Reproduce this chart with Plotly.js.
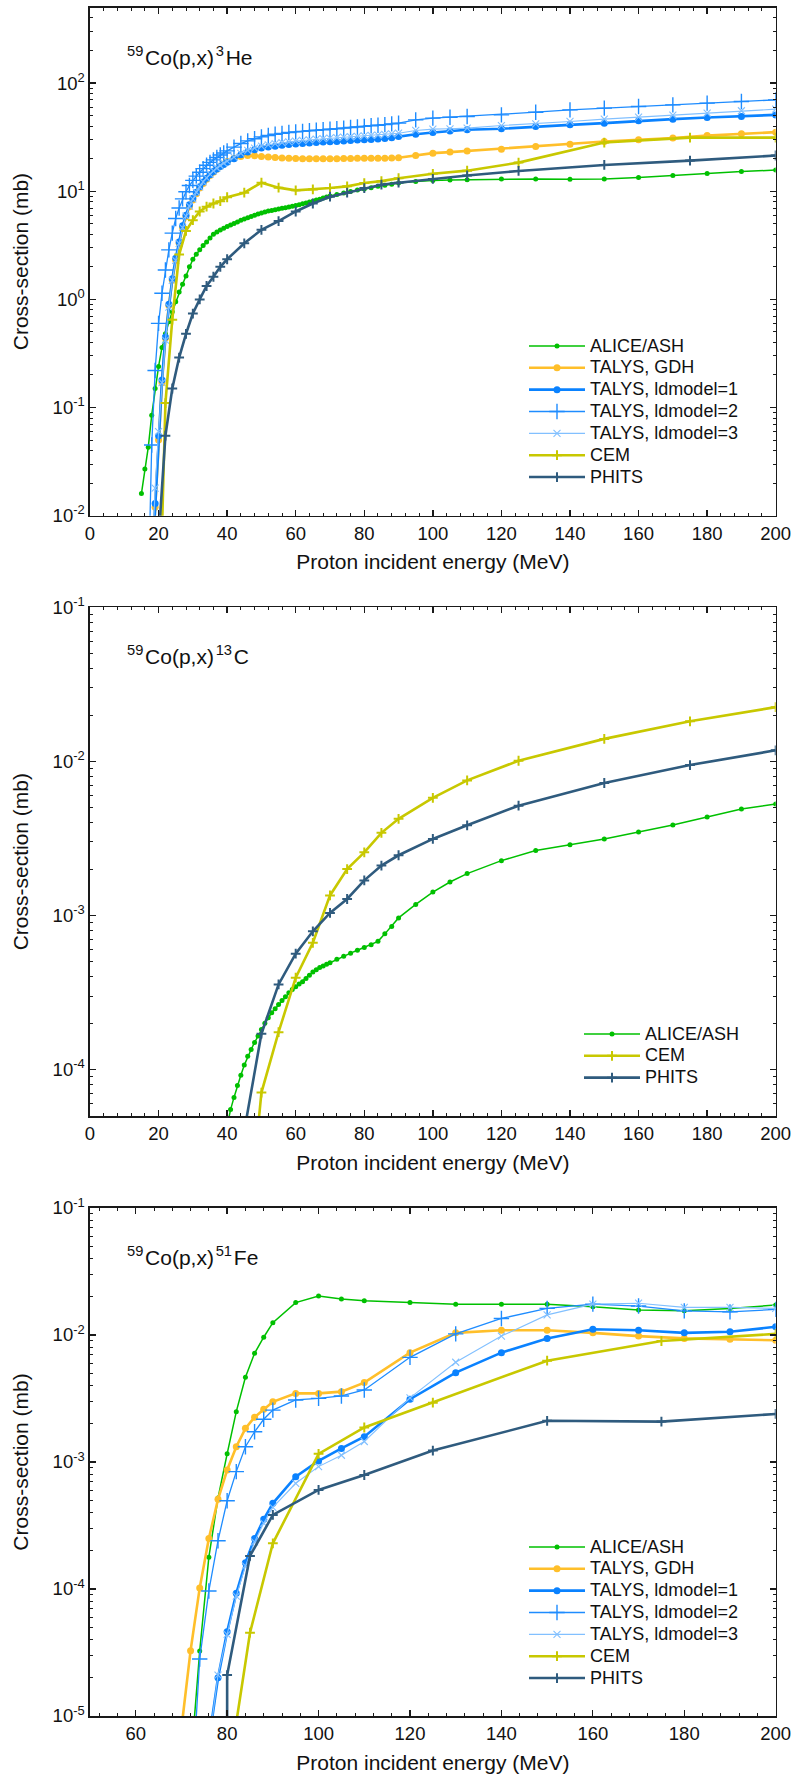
<!DOCTYPE html>
<html>
<head>
<meta charset="utf-8">
<script src="https://cdn.plot.ly/plotly-3.0.1.min.js"></script>
<style>html,body{margin:0;padding:0;background:#fff}#chart{width:795px;height:1783px}</style>
</head>
<body>
<div id="chart"></div>
<script>
// ---------------- DATA ----------------
// Panel 1: 59Co(p,x)3He
const E_he3_alice = [15,16,17,18,19,20,21,22,23,24,25,26,27,28,29,30,31,32,33,34,35,36,37,38,39,40,41,42,43,44,45,46,47,48,49,50,51,52,53,54,55,56,57,58,59,60,61,62,63,64,65,66,67,68,69,70,72,74,76,78,80,82,84,86,88,90,95,100,105,110,120,130,140,150,160,170,180,190,200];
const he3_alice = [0.016,0.027,0.043,0.085,0.15,0.24,0.36,0.48,0.62,0.77,
  0.95,1.17,1.38,1.65,2.0,2.35,2.62,2.88,3.15,3.4,
  3.7,4.0,4.2,4.38,4.55,4.72,4.88,5.02,5.2,5.38,
  5.55,5.7,5.85,6.0,6.15,6.3,6.42,6.55,6.65,6.75,
  6.85,6.95,7.05,7.15,7.28,7.4,7.5,7.65,7.8,7.95,
  8.1,8.28,8.45,8.65,8.85,9.05,
  9.35,9.65,9.95,10.25,10.5,10.8,11.1,11.35,11.6,11.9,
  12.3,12.6,12.7,12.8,
  13.0,13.0,12.9,13.0,13.4,14.0,14.6,15.2,15.7];
const E_he3_talys = [18,19,20,21,22,23,24,25,26,27,28,29,30,31,32,33,34,35,36,37,38,39,40,42,44,46,48,50,52,54,56,58,60,62,64,66,68,70,72,74,76,78,80,82,84,86,88,90,95,100,105,110,120,130,140,150,160,170,180,190,200];
const E_he3_talys2 = [17,18,19,20,21,22,23,24,25,26,27,28,29,30,31,32,33,34,35,36,37,38,39,40,42,44,46,48,50,52,54,56,58,60,62,64,66,68,70,72,74,76,78,80,82,84,86,88,90,95,100,105,110,120,130,140,150,160,170,180,190,200];
const he3_gdh = [0.003,0.012,0.05,0.17,0.44,0.88,1.5,2.3,3.3,4.6,5.8,7.2,8.3,9.5,10.7,11.8,12.9,14.0,15.0,16.0,17.0,17.9,18.8,
  20.2,21.0,21.4,21.3,21.0,20.7,20.5,20.3,20.2,20.1,20.0,20.0,20.0,20.0,20.0,20.0,20.1,20.1,20.2,20.2,20.2,20.2,20.2,20.3,20.4,
  21.4,22.5,23.0,23.6,
  24.5,25.9,27.2,28.8,29.9,31.0,32.7,34.0,35.2];
const he3_ld1 = [0.003,0.013,0.055,0.18,0.45,0.9,1.55,2.4,3.4,4.8,6.0,7.5,8.6,9.8,11.0,12.2,13.2,14.2,15.2,16.1,16.9,17.7,18.5,
  20.0,21.7,23.0,24.2,25.1,25.6,26.1,26.6,27.0,27.3,27.6,27.9,28.2,28.5,28.7,28.9,29.2,29.4,29.7,29.9,30.1,30.4,30.8,31.3,32.0,
  33.7,34.9,36.1,37.0,
  37.8,39.6,41.1,42.6,44.8,46.4,48.1,49.1,50.8];
const he3_ld2 = [0.002,0.045,0.22,0.6,1.14,1.87,2.87,4.1,5.6,7.0,8.5,9.9,11.3,12.6,13.8,15.0,16.2,17.4,18.5,19.5,20.5,21.6,22.6,23.6,
  25.6,27.6,29.2,30.6,31.8,32.8,33.6,34.3,34.9,35.4,35.8,36.2,36.6,37.0,37.4,37.8,38.3,38.8,39.3,39.8,40.3,40.8,41.3,42.0,42.6,
  45.7,47.4,48.4,49.1,
  50.8,53.8,56.6,58.7,60.7,62.9,65.3,67.6,70.0];
const he3_ld3 = [0.003,0.018,0.06,0.17,0.42,0.85,1.5,2.3,3.3,4.6,5.9,7.3,8.5,9.8,11.0,12.2,13.3,14.4,15.4,16.4,17.3,18.2,19.0,
  20.7,22.4,23.9,25.1,26.1,26.9,27.5,28.1,28.6,29.1,29.5,29.9,30.3,30.7,31.0,31.3,31.6,31.9,32.2,32.5,32.8,33.1,33.5,34.0,34.4,
  36.5,37.5,37.8,38.3,
  40.5,42.0,44.2,46.4,48.4,50.6,52.7,55.5,57.4];
const E_he3_cem = [20,22,24,26,28,30,32,34,36,38,40,45,50,55,60,65,70,75,80,85,90,100,110,125,150,175,200];
const he3_cem = [0.0005,0.11,0.65,2.6,4.3,5.4,6.5,7.2,7.7,8.1,8.8,9.7,12.0,10.8,10.2,10.4,10.7,11.1,11.9,12.4,13.2,14.5,15.5,18.4,28.2,31.3,31.3];
const E_he3_phits = [20,22,24,26,28,30,32,34,36,38,40,45,50,55,60,65,70,75,80,85,90,100,110,125,150,175,200];
const he3_phits = [0.006,0.055,0.15,0.29,0.48,0.74,1.0,1.33,1.62,2.0,2.35,3.3,4.4,5.3,6.5,7.7,8.9,9.7,10.7,11.5,12.0,13.0,14.0,15.4,17.5,19.2,21.4];

// Panel 2: 59Co(p,x)13C
const E_c13_alice = [40,41,42,43,44,45,46,47,48,49,50,51,52,53,54,55,56,57,58,59,60,61,62,63,64,65,66,67,68,69,70,72,74,76,78,80,82,84,86,88,90,95,100,105,110,120,130,140,150,160,170,180,190,200];
const c13_alice = [4.3e-5,5.5e-5,6.6e-5,7.9e-5,9.2e-5,1.07e-4,1.22e-4,1.35e-4,1.5e-4,1.65e-4,
  1.82e-4,2.0e-4,2.17e-4,2.34e-4,2.48e-4,2.65e-4,2.81e-4,2.97e-4,3.15e-4,3.31e-4,
  3.45e-4,3.6e-4,3.72e-4,3.9e-4,4.1e-4,4.3e-4,4.45e-4,4.6e-4,4.7e-4,4.82e-4,4.93e-4,
  5.2e-4,5.45e-4,5.7e-4,5.95e-4,6.2e-4,6.45e-4,6.8e-4,7.6e-4,8.5e-4,9.65e-4,
  1.18e-3,1.42e-3,1.65e-3,1.87e-3,
  2.27e-3,2.64e-3,2.88e-3,3.14e-3,3.48e-3,3.87e-3,4.36e-3,4.91e-3,5.3e-3];
const E_c13_cem = [45,50,55,60,65,70,75,80,85,90,100,110,125,150,175,200];
const c13_cem = [5e-6,7.1e-5,1.75e-4,3.95e-4,6.65e-4,1.35e-3,2.0e-3,2.57e-3,3.44e-3,4.24e-3,5.8e-3,7.53e-3,1.01e-2,1.4e-2,1.82e-2,2.25e-2];
const E_c13_phits = [45,50,55,60,65,70,75,80,85,90,100,110,125,150,175,200];
const c13_phits = [4e-5,1.71e-4,3.57e-4,5.65e-4,7.9e-4,1.04e-3,1.28e-3,1.69e-3,2.11e-3,2.46e-3,3.14e-3,3.85e-3,5.16e-3,7.24e-3,9.47e-3,1.18e-2];

// Panel 3: 59Co(p,x)51Fe
const E_fe51_alice = [72,74,76,78,80,82,84,86,88,90,95,100,105,110,120,130,140,150,160,170,180,190,200];
const fe51_alice = [4e-6,3.25e-5,1.78e-4,5.2e-4,1.16e-3,2.49e-3,4.64e-3,7.17e-3,9.6e-3,1.25e-2,1.8e-2,2.03e-2,1.92e-2,1.86e-2,1.8e-2,1.75e-2,1.75e-2,1.75e-2,1.67e-2,1.57e-2,1.55e-2,1.62e-2,1.72e-2];
const E_fe51_talys = [70,72,74,76,78,80,82,84,86,88,90,95,100,105,110,120,130,140,150,160,170,180,190,200];
const fe51_gdh = [8e-6,3.27e-5,1.02e-4,2.5e-4,5.08e-4,8.65e-4,1.32e-3,1.84e-3,2.25e-3,2.6e-3,2.98e-3,3.47e-3,3.47e-3,3.58e-3,4.22e-3,7.26e-3,1.04e-2,1.09e-2,1.09e-2,1.04e-2,9.8e-3,9.4e-3,9.25e-3,9.1e-3];
const fe51_ld2 = [1e-7,1.5e-6,2.81e-5,9.65e-5,2.4e-4,4.95e-4,8.4e-4,1.32e-3,1.73e-3,2.17e-3,2.56e-3,3.08e-3,3.17e-3,3.31e-3,3.69e-3,6.67e-3,1.02e-2,1.35e-2,1.62e-2,1.75e-2,1.69e-2,1.55e-2,1.52e-2,1.59e-2];
const E_fe51_talys13 = [76,78,80,82,84,86,88,90,95,100,105,110,120,130,140,150,160,170,180,190,200];
const fe51_ld1 = [6.3e-6,2.0e-5,4.6e-5,9.25e-5,1.61e-4,2.5e-4,3.54e-4,4.73e-4,7.66e-4,1.02e-3,1.28e-3,1.58e-3,3.12e-3,5.05e-3,7.26e-3,9.4e-3,1.11e-2,1.09e-2,1.04e-2,1.06e-2,1.16e-2];
const fe51_ld3 = [6e-6,2.1e-5,4.4e-5,8.8e-5,1.52e-4,2.35e-4,3.3e-4,4.4e-4,6.8e-4,9.2e-4,1.13e-3,1.45e-3,3.2e-3,6.1e-3,9.8e-3,1.44e-2,1.75e-2,1.78e-2,1.65e-2,1.65e-2,1.62e-2];
const E_fe51_cem = [80,85,90,100,110,125,150,175,200];
const fe51_cem = [3e-6,4.53e-5,2.29e-4,1.16e-3,1.87e-3,2.93e-3,6.28e-3,8.97e-3,1.02e-2];
const E_fe51_phits = [80,80,85,90,100,110,125,150,175,200];
const fe51_phits = [1e-7,2.1e-5,1.82e-4,3.83e-4,6.03e-4,7.9e-4,1.23e-3,2.11e-3,2.08e-3,2.39e-3];

// Tick labels
const yTickVals1 = [0.01,0.1,1,10,100];
const yTickText1 = ['10<sup>-2</sup>','10<sup>-1</sup>','10<sup>0</sup>','10<sup>1</sup>','10<sup>2</sup>'];
const yTickVals2 = [1e-4,1e-3,1e-2,1e-1];
const yTickText2 = ['10<sup>-4</sup>','10<sup>-3</sup>','10<sup>-2</sup>','10<sup>-1</sup>'];
const yTickVals3 = [1e-5,1e-4,1e-3,1e-2,1e-1];
const yTickText3 = ['10<sup>-5</sup>','10<sup>-4</sup>','10<sup>-3</sup>','10<sup>-2</sup>','10<sup>-1</sup>'];
const panelLabels = ['<sup>59</sup>\u200aCo(p,x)\u200a<sup>3</sup>\u200aHe','<sup>59</sup>\u200aCo(p,x)\u200a<sup>13</sup>\u200aC','<sup>59</sup>\u200aCo(p,x)\u200a<sup>51</sup>\u200aFe'];
const xTitle = 'Proton incident energy (MeV)';
const yTitle = 'Cross-section (mb)';

// ---------------- STYLES ----------------
const W = 795, H = 1783;
const FONT = 'Liberation Sans, Arial, Helvetica, sans-serif';
const ST = {
  'ALICE/ASH':        {color:'#00c000', lw:1.5, sym:'circle', ms:5, mlw:0},
  'TALYS, GDH':       {color:'#ffbf2a', lw:2.6, sym:'circle', ms:7, mlw:0},
  'TALYS, ldmodel=1': {color:'#0a82ff', lw:2.6, sym:'circle', ms:7, mlw:0},
  'TALYS, ldmodel=2': {color:'#1e8cff', lw:1.3, sym:'cross-thin', ms:11, mlw:1.4},
  'TALYS, ldmodel=3': {color:'#82c0ff', lw:1.1, sym:'x-thin', ms:7, mlw:1.1},
  'CEM':              {color:'#c8c800', lw:2.6, sym:'cross-thin', ms:7, mlw:2},
  'PHITS':            {color:'#2f5b7e', lw:2.6, sym:'cross-thin', ms:7, mlw:2}
};
function tr(name, x, y, k) {
  const s = ST[name];
  return {
    type:'scatter', mode:'lines+markers',
    name:'<span style="font-size:18px">' + name + '</span>', x:x, y:y,
    xaxis: k===1 ? 'x' : 'x'+k, yaxis: k===1 ? 'y' : 'y'+k,
    legend: k===1 ? 'legend' : 'legend'+k,
    line:{color:s.color, width:s.lw},
    marker:{symbol:s.sym, size:s.ms, color:s.color, line:{color:s.color, width:s.mlw}},
    showlegend:true
  };
}
const data = [
  tr('ALICE/ASH', E_he3_alice, he3_alice, 1),
  tr('TALYS, GDH', E_he3_talys, he3_gdh, 1),
  tr('TALYS, ldmodel=1', E_he3_talys, he3_ld1, 1),
  tr('TALYS, ldmodel=2', E_he3_talys2, he3_ld2, 1),
  tr('TALYS, ldmodel=3', E_he3_talys, he3_ld3, 1),
  tr('CEM', E_he3_cem, he3_cem, 1),
  tr('PHITS', E_he3_phits, he3_phits, 1),
  tr('ALICE/ASH', E_c13_alice, c13_alice, 2),
  tr('CEM', E_c13_cem, c13_cem, 2),
  tr('PHITS', E_c13_phits, c13_phits, 2),
  tr('ALICE/ASH', E_fe51_alice, fe51_alice, 3),
  tr('TALYS, GDH', E_fe51_talys, fe51_gdh, 3),
  tr('TALYS, ldmodel=1', E_fe51_talys13, fe51_ld1, 3),
  tr('TALYS, ldmodel=2', E_fe51_talys, fe51_ld2, 3),
  tr('TALYS, ldmodel=3', E_fe51_talys13, fe51_ld3, 3),
  tr('CEM', E_fe51_cem, fe51_cem, 3),
  tr('PHITS', E_fe51_phits, fe51_phits, 3)
];

// ---------------- LAYOUT ----------------
const px = v => v / W;
const py = v => 1 - v / H;
const plotL = 90, plotR = 775.7;
const panels = [
  {top:7.5, bottom:515.7, xr:[0,200], yr:[-2, Math.log10(500)], tv:yTickVals1, tt:yTickText1, lo:-2, hi:3},
  {top:607.3, bottom:1116, xr:[0,200], yr:[Math.log10(5e-5), -1], tv:yTickVals2, tt:yTickText2, lo:-5, hi:-1},
  {top:1208, bottom:1716, xr:[50,200], yr:[-5, -1], tv:yTickVals3, tt:yTickText3, lo:-5, hi:-1}
];
function minorLogTicks(lo, hi) {
  const out = [];
  for (let d = lo; d < hi; d++) for (let m = 2; m <= 9; m++) out.push(m * Math.pow(10, d));
  return out;
}
const axisCommon = {
  showline:true, linecolor:'#1a1a1a', linewidth:1.6, mirror:'allticks',
  ticks:'inside', ticklen:6, tickwidth:1.3, tickcolor:'#1a1a1a',
  showgrid:false, zeroline:false,
  tickfont:{family:FONT, size:18.5, color:'#111'}
};
const layout = {
  width:W, height:H, margin:{l:0, r:0, t:0, b:0},
  paper_bgcolor:'#fff', plot_bgcolor:'#fff',
  font:{family:FONT, color:'#111'},
  annotations:[], showlegend:true
};
panels.forEach((p, i) => {
  const k = i + 1;
  const xa = 'xaxis' + (k===1 ? '' : k), ya = 'yaxis' + (k===1 ? '' : k);
  layout[xa] = Object.assign({}, axisCommon, {
    domain:[px(plotL), px(plotR)], range:p.xr, tick0:0, dtick:20,
    anchor: k===1 ? 'y' : 'y'+k,
    minor:{ticks:'inside', ticklen:3, tickwidth:1, tickcolor:'#1a1a1a', dtick:4, tick0:0},
    title:{text:xTitle, font:{family:FONT, size:21, color:'#111'}, standoff:12}
  });
  layout[ya] = Object.assign({}, axisCommon, {
    domain:[py(p.bottom), py(p.top)], type:'log', range:p.yr,
    anchor: k===1 ? 'x' : 'x'+k,
    tickmode:'array', tickvals:p.tv, ticktext:p.tt,
    minor:{ticks:'inside', ticklen:3, tickwidth:1, tickcolor:'#1a1a1a', tickmode:'array', tickvals:minorLogTicks(p.lo, p.hi)},
    title:{text:yTitle, font:{family:FONT, size:21, color:'#111'}, standoff:18}
  });
  layout.annotations.push({
    xref:'paper', yref:'paper', x:px(125), y:py(p.top + 48), xanchor:'left', yanchor:'middle',
    text:panelLabels[i], showarrow:false, font:{family:FONT, size:21, color:'#111'}
  });
});
const legendCommon = {
  xanchor:'left', yanchor:'top', bgcolor:'rgba(0,0,0,0)', borderwidth:0,
  font:{family:FONT, size:14.5, color:'#111'}, tracegroupgap:0, itemwidth:56
};
layout.legend  = Object.assign({}, legendCommon, {x:px(524), y:py(330)});
layout.legend2 = Object.assign({}, legendCommon, {x:px(579), y:py(1018)});
layout.legend3 = Object.assign({}, legendCommon, {x:px(524), y:py(1531)});

Plotly.newPlot('chart', data, layout, {displayModeBar:false, staticPlot:true});
</script>
</body>
</html>
